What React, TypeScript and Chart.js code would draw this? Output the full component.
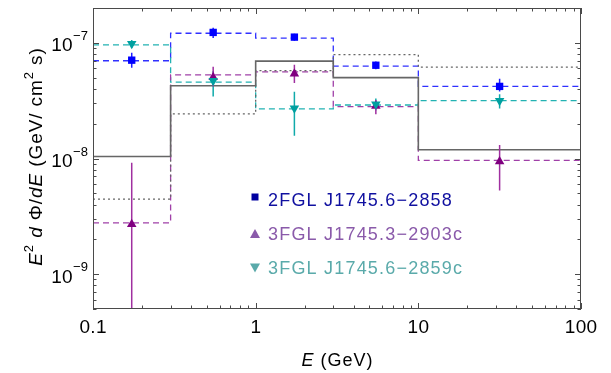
import React, { useEffect, useRef } from 'react';
import { Chart, registerables } from 'chart.js';

Chart.register(...registerables);

// ---------------- data ----------------
const binEdges = [0.1, 0.3, 1, 3, 10, 100];
const pointEnergies = [0.173, 0.548, 1.73, 5.48, 31.6];

const modelSolid = [1.04e-8, 4.25e-8, 6.94e-8, 5.0e-8, 1.19e-8];
const modelDotted = [4.46e-9, 2.43e-8, 5.76e-8, 7.92e-8, 6.16e-8];

const fgl2Step = [7.0e-8, 1.21e-7, 1.1e-7, 6.3e-8, 4.2e-8];
const fgl2Flux = [7.08e-8, 1.23e-7, 1.12e-7, 6.4e-8, 4.2e-8];
const fgl2Low = [6.1e-8, 1.1e-7, 1.04e-7, 5.9e-8, 3.8e-8];
const fgl2High = [8.2e-8, 1.35e-7, 1.2e-7, 6.9e-8, 4.9e-8];

const fgl3aStep = [2.78e-9, 5.28e-8, 5.6e-8, 2.81e-8, 9.64e-9];
const fgl3aFlux = [2.7e-9, 5.05e-8, 5.4e-8, 2.85e-8, 9.4e-9];
const fgl3aLow = [1e-10, 4.2e-8, 4.5e-8, 2.41e-8, 5.3e-9];
const fgl3aHigh = [9.2e-9, 6.2e-8, 6.45e-8, 3.2e-8, 1.31e-8];

const fgl3bStep = [9.6e-8, 4.57e-8, 2.68e-8, 2.9e-8, 3.16e-8];
const fgl3bFlux = [9.8e-8, 4.7e-8, 2.72e-8, 2.95e-8, 3.15e-8];
const fgl3bLow = [9.0e-8, 3.43e-8, 1.57e-8, 2.6e-8, 2.7e-8];
const fgl3bHigh = [1.06e-7, 5.7e-8, 3.78e-8, 3.3e-8, 3.6e-8];

const xMin = 0.1;
const xMax = 100;
const yMin = 5e-10;
const yMax = 2e-7;

const xMajorTicks = [0.1, 1, 10, 100];
const xMajorLabels = ['0.1', '1', '10', '100'];
const yMajorTicks = [1e-9, 1e-8, 1e-7];
const yMajorExponents = ['\u22129', '\u22128', '\u22127'];

const legendLabels = ['2FGL J1745.6\u22122858', '3FGL J1745.3\u22122903c', '3FGL J1745.6\u22122859c'];
const legendTextColors = ['#1010a0', '#8a5aaa', '#5aaaaa'];
const legendMarkerColors = ['#0000a0', '#8a5aaa', '#5aaaaa'];

// ---------------- helpers ----------------
const stepData = (vals: number[]) =>
  binEdges.map((x, i) => ({ x, y: vals[Math.min(i, vals.length - 1)] }));

const pointData = (vals: number[]) => pointEnergies.map((x, i) => ({ x, y: vals[i] }));

const errData = (lo: number[], hi: number[]) => {
  const out: { x: number; y: number | null }[] = [];
  pointEnergies.forEach((x, i) => {
    out.push({ x, y: lo[i] });
    out.push({ x, y: hi[i] });
    out.push({ x, y: null });
  });
  return out;
};

const FONT = '"Liberation Sans", Arial, Helvetica, sans-serif';
const font = (size: number, style = '') => `${style} ${size}px ${FONT}`.trim();

type Run = { t: string; f: string; dy?: number };

function runsWidth(ctx: CanvasRenderingContext2D, runs: Run[], ls: number) {
  let w = 0;
  let n = 0;
  for (const r of runs) {
    ctx.font = r.f;
    for (const ch of r.t) {
      w += ctx.measureText(ch).width + ls;
      n++;
    }
  }
  return n ? w - ls : 0;
}

function drawRuns(ctx: CanvasRenderingContext2D, runs: Run[], x: number, y: number, ls: number) {
  let cx = x;
  for (const r of runs) {
    ctx.font = r.f;
    for (const ch of r.t) {
      ctx.fillText(ch, cx, y + (r.dy || 0));
      cx += ctx.measureText(ch).width + ls;
    }
  }
}

function drawMarker(ctx: CanvasRenderingContext2D, kind: string, x: number, y: number, color: string) {
  ctx.fillStyle = color;
  ctx.beginPath();
  if (kind === 'rect') {
    ctx.rect(x - 3.5, y - 3.5, 7, 7);
  } else if (kind === 'up') {
    ctx.moveTo(x, y - 5);
    ctx.lineTo(x + 5, y + 4);
    ctx.lineTo(x - 5, y + 4);
    ctx.closePath();
  } else {
    ctx.moveTo(x, y + 5);
    ctx.lineTo(x + 5, y - 4);
    ctx.lineTo(x - 5, y - 4);
    ctx.closePath();
  }
  ctx.fill();
}

const decorPlugin = {
  id: 'decor',
  beforeDraw(chart: any) {
    const ctx = chart.ctx as CanvasRenderingContext2D;
    ctx.save();
    ctx.fillStyle = '#ffffff';
    ctx.fillRect(0, 0, chart.width, chart.height);
    ctx.restore();
  },
  afterDraw(chart: any) {
    const ctx = chart.ctx as CanvasRenderingContext2D;
    const a = chart.chartArea;
    const xs = chart.scales.x;
    const ys = chart.scales.y;
    ctx.save();

    // frame
    ctx.strokeStyle = '#4a4a4a';
    ctx.lineWidth = 1;
    ctx.strokeRect(a.left + 0.5, a.top + 0.5, a.right - a.left - 1, a.bottom - a.top - 1);

    // ticks
    const xMinor: number[] = [];
    for (const d of [0.1, 1, 10]) for (let k = 2; k <= 9; k++) xMinor.push(k * d);
    const yMinor: number[] = [];
    for (const d of [1e-10, 1e-9, 1e-8, 1e-7])
      for (let k = 2; k <= 9; k++) {
        const v = k * d;
        if (v >= yMin && v <= yMax) yMinor.push(v);
      }
    ctx.beginPath();
    const xTick = (v: number, len: number) => {
      const px = Math.round(xs.getPixelForValue(v)) + 0.5;
      ctx.moveTo(px, a.bottom);
      ctx.lineTo(px, a.bottom - len);
      ctx.moveTo(px, a.top);
      ctx.lineTo(px, a.top + len);
    };
    const yTick = (v: number, len: number) => {
      const py = Math.round(ys.getPixelForValue(v)) + 0.5;
      ctx.moveTo(a.left, py);
      ctx.lineTo(a.left + len, py);
      ctx.moveTo(a.right, py);
      ctx.lineTo(a.right - len, py);
    };
    xMajorTicks.forEach((v) => xTick(v, 6));
    xMinor.forEach((v) => xTick(v, 3.5));
    yMajorTicks.forEach((v) => yTick(v, 6));
    yMinor.forEach((v) => yTick(v, 3.5));
    ctx.stroke();

    // x tick labels
    ctx.fillStyle = '#000000';
    ctx.textBaseline = 'alphabetic';
    ctx.textAlign = 'left';
    xMajorTicks.forEach((v, i) => {
      const runs = [{ t: xMajorLabels[i], f: font(19) }];
      const w = runsWidth(ctx, runs, 0.3);
      const px = xs.getPixelForValue(v);
      drawRuns(ctx, runs, px - w / 2, 333, 0.3);
    });

    // y tick labels 10^n
    yMajorTicks.forEach((v, i) => {
      const py = ys.getPixelForValue(v);
      const runs: Run[] = [
        { t: '10', f: font(19) },
        { t: yMajorExponents[i], f: font(13), dy: -11.5 },
      ];
      const w = runsWidth(ctx, runs, 0.3);
      drawRuns(ctx, runs, 88 - w, py + 8.5, 0.3);
    });

    // x axis title
    const xt: Run[] = [
      { t: 'E', f: font(18, 'italic') },
      { t: ' (GeV)', f: font(18) },
    ];
    const xw = runsWidth(ctx, xt, 1);
    drawRuns(ctx, xt, (a.left + a.right) / 2 - xw / 2, 366, 1);

    // y axis title
    const yt: Run[] = [
      { t: 'E', f: font(19, 'italic') },
      { t: '2', f: font(13), dy: -9 },
      { t: ' ', f: font(19) },
      { t: 'd', f: font(19, 'italic') },
      { t: ' \u03A6/', f: font(19) },
      { t: 'dE', f: font(19, 'italic') },
      { t: ' (GeV/ cm', f: font(19) },
      { t: '2', f: font(13), dy: -9 },
      { t: ' s)', f: font(19) },
    ];
    const yw = runsWidth(ctx, yt, 0.9);
    ctx.save();
    ctx.translate(42, 157);
    ctx.rotate(-Math.PI / 2);
    drawRuns(ctx, yt, -yw / 2, 0, 0.9);
    ctx.restore();

    // legend
    const kinds = ['rect', 'up', 'down'];
    const markerY = [197, 234, 267.5];
    const textBase = [206, 240, 274];
    legendLabels.forEach((lab, i) => {
      drawMarker(ctx, kinds[i], 255, markerY[i], legendMarkerColors[i]);
      ctx.fillStyle = legendTextColors[i];
      drawRuns(ctx, [{ t: lab, f: font(18) }], 268, textBase[i], 1.2);
    });

    ctx.restore();
  },
};

export default function App() {
  const ref = useRef<HTMLCanvasElement | null>(null);

  useEffect(() => {
    if (!ref.current) return;
    const stepBase = {
      stepped: true as const,
      pointRadius: 0,
      fill: false,
      borderWidth: 1.3,
      order: 3,
    };
    const errBase = {
      pointRadius: 0,
      fill: false,
      borderWidth: 1.5,
      spanGaps: false,
      order: 2,
    };
    const markBase = {
      showLine: false,
      pointBorderWidth: 0,
      order: 1,
    };
    const chart = new Chart(ref.current, {
      type: 'line',
      data: {
        datasets: [
          { ...stepBase, data: stepData(modelDotted), borderColor: '#666666', borderDash: [2, 3] },
          { ...stepBase, data: stepData(modelSolid), borderColor: '#666666', borderWidth: 1.6 },
          { ...stepBase, data: stepData(fgl3aStep), borderColor: '#a040a8', borderDash: [6, 4] },
          { ...stepBase, data: stepData(fgl3bStep), borderColor: '#22b2b2', borderDash: [6, 4] },
          { ...stepBase, data: stepData(fgl2Step), borderColor: '#3030ff', borderDash: [6, 4] },
          { ...errBase, data: errData(fgl3aLow, fgl3aHigh), borderColor: '#a030a0' },
          { ...errBase, data: errData(fgl3bLow, fgl3bHigh), borderColor: '#10aaaa' },
          { ...errBase, data: errData(fgl2Low, fgl2High), borderColor: '#2020ff' },
          {
            ...markBase,
            data: pointData(fgl3bFlux),
            pointStyle: 'triangle',
            pointRotation: 180,
            pointRadius: 5.5,
            pointBackgroundColor: '#00a0a0',
            pointBorderColor: '#00a0a0',
          },
          {
            ...markBase,
            data: pointData(fgl3aFlux),
            pointStyle: 'triangle',
            pointRadius: 5.5,
            pointBackgroundColor: '#800080',
            pointBorderColor: '#800080',
          },
          {
            ...markBase,
            data: pointData(fgl2Flux),
            pointStyle: 'rect',
            pointRadius: 5.2,
            pointBackgroundColor: '#0000ff',
            pointBorderColor: '#0000ff',
          },
        ] as any,
      },
      options: {
        animation: false,
        responsive: false,
        devicePixelRatio: 1,
        events: [],
        layout: { padding: { left: 93, right: 30, top: 8, bottom: 64 } },
        plugins: { legend: { display: false }, tooltip: { enabled: false } },
        scales: {
          x: { type: 'logarithmic', min: xMin, max: xMax, display: false },
          y: { type: 'logarithmic', min: yMin, max: yMax, display: false },
        },
      } as any,
      plugins: [decorPlugin],
    });
    return () => chart.destroy();
  }, []);

  return (
    <div style={{ position: 'absolute', left: 0, top: 0, width: 611, height: 373 }}>
      <canvas ref={ref} width={611} height={373} style={{ width: 611, height: 373, display: 'block' }} />
    </div>
  );
}
